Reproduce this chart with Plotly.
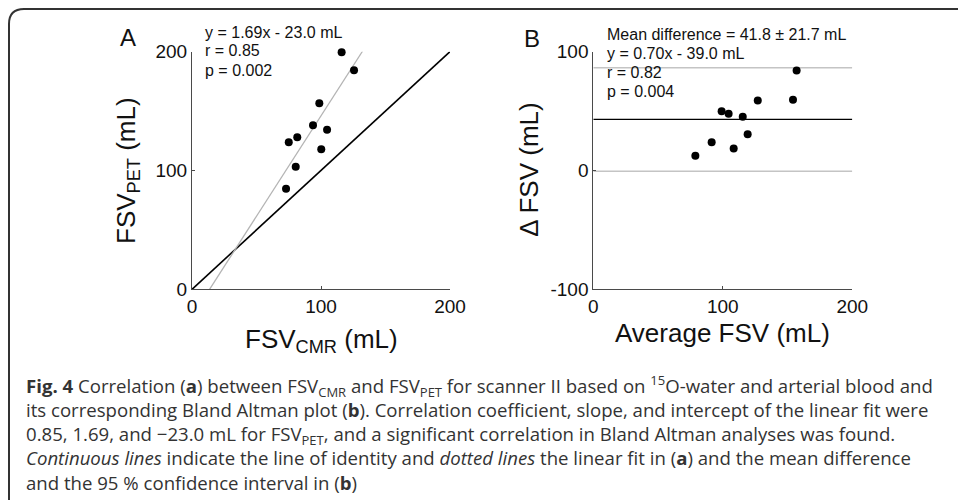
import plotly.graph_objects as go

W, H = 958, 500

# ---------------- data ----------------
# Panel A: FSV_CMR vs FSV_PET
fsv_cmr = [116.0, 125.6, 98.7, 93.8, 104.7, 81.6, 75.0, 100.2, 80.4, 72.9]
fsv_pet = [199.5, 184.3, 156.6, 138.0, 134.3, 127.9, 123.7, 117.8, 103.2, 84.7]
identity_x = [0, 200]
identity_y = [0, 200]
fit_slope = 1.69
fit_intercept = -23.0
fit_x = [13.6, 132.3]

# Panel B: Bland Altman
avg_fsv = [157.0, 154.2, 127.0, 99.1, 104.5, 115.4, 119.2, 91.4, 108.4, 78.8]
delta_fsv = [84.2, 59.5, 58.9, 49.9, 47.7, 45.2, 30.6, 23.8, 18.5, 12.4]
ba_x = [0, 200]
mean_diff = 43.0
loa_upper = 86.5
loa_lower = -0.6

ticks_x = [0, 100, 200]
ticks_ya = [0, 100, 200]
ticks_yb = [-100, 0, 100]
ticklabels_x = ["0", "100", "200"]
ticklabels_ya = ["0", "100", "200"]
ticklabels_yb = ["-100", "0", "100"]

stats_a = ["y = 1.69x - 23.0 mL", "r = 0.85", "p = 0.002"]
stats_b = ["Mean difference = 41.8 \u00b1 21.7 mL", "y = 0.70x - 39.0 mL", "r = 0.82", "p = 0.004"]

caption_lines = [
    "<b>Fig. 4</b> Correlation (<b>a</b>) between FSV<sub>CMR</sub> and FSV<sub>PET</sub> for scanner II based on <sup>15</sup>O-water and arterial blood and",
    "its corresponding Bland Altman plot (<b>b</b>). Correlation coefficient, slope, and intercept of the linear fit were",
    "0.85, 1.69, and \u221223.0 mL for FSV<sub>PET</sub>, and a significant correlation in Bland Altman analyses was found.",
    "<i>Continuous lines</i> indicate the line of identity and <i>dotted lines</i> the linear fit in (<b>a</b>) and the mean difference",
    "and the 95 % confidence interval in (<b>b</b>)",
]

# ---------------- helpers ----------------
def fx(px):
    return px / W

def fy(py):
    return 1 - py / H

FONT = "Liberation Sans, Arial, sans-serif"
CAPFONT = "Open Sans, Noto Sans, sans-serif"

fig = go.Figure()

# Panel A traces
fig.add_trace(go.Scatter(x=identity_x, y=identity_y, mode="lines",
                         line=dict(color="black", width=1.6),
                         xaxis="x", yaxis="y", showlegend=False, hoverinfo="skip"))
fig.add_trace(go.Scatter(x=fit_x, y=[fit_slope * v + fit_intercept for v in fit_x], mode="lines",
                         line=dict(color="#b4b4b4", width=1.3),
                         xaxis="x", yaxis="y", showlegend=False, hoverinfo="skip"))
fig.add_trace(go.Scatter(x=fsv_cmr, y=fsv_pet, mode="markers",
                         marker=dict(color="black", size=8),
                         xaxis="x", yaxis="y", showlegend=False, cliponaxis=False))

# Panel B traces
fig.add_trace(go.Scatter(x=ba_x, y=[loa_upper, loa_upper], mode="lines",
                         line=dict(color="#c4c4c4", width=1.6),
                         xaxis="x2", yaxis="y2", showlegend=False, hoverinfo="skip"))
fig.add_trace(go.Scatter(x=ba_x, y=[loa_lower, loa_lower], mode="lines",
                         line=dict(color="#c4c4c4", width=1.6),
                         xaxis="x2", yaxis="y2", showlegend=False, hoverinfo="skip"))
fig.add_trace(go.Scatter(x=ba_x, y=[mean_diff, mean_diff], mode="lines",
                         line=dict(color="black", width=1.4),
                         xaxis="x2", yaxis="y2", showlegend=False, hoverinfo="skip"))
fig.add_trace(go.Scatter(x=avg_fsv, y=delta_fsv, mode="markers",
                         marker=dict(color="black", size=8),
                         xaxis="x2", yaxis="y2", showlegend=False, cliponaxis=False))

ydom = [fy(289.3), fy(51.7)]

axis_common = dict(showgrid=False, zeroline=False, showline=True, linecolor="#4a4a4a",
                   linewidth=1, ticks="inside", ticklen=3, tickcolor="#4a4a4a",
                   tickfont=dict(family=FONT, size=19, color="#111111"), mirror=False)

fig.update_layout(
    width=W, height=H,
    margin=dict(l=0, r=0, t=0, b=0, autoexpand=False),
    font=dict(family=FONT, size=19, color="#111111"),
    paper_bgcolor="white", plot_bgcolor="rgba(0,0,0,0)",
    xaxis=dict(domain=[fx(192), fx(450)], range=[0, 200], anchor="y",
               tickvals=ticks_x, ticktext=ticklabels_x, **axis_common),
    yaxis=dict(domain=ydom, range=[0, 200], anchor="x",
               tickvals=ticks_ya, ticktext=ticklabels_ya, **axis_common),
    xaxis2=dict(domain=[fx(593.3), fx(852.3)], range=[0, 200], anchor="y2",
                tickvals=ticks_x, ticktext=ticklabels_x, **axis_common),
    yaxis2=dict(domain=ydom, range=[-100, 100], anchor="x2",
                tickvals=ticks_yb, ticktext=ticklabels_yb, **axis_common),
)

annotations = []

def ann(text, px, py, size, family=FONT, color="#111111", xanchor="center",
        yanchor="middle", angle=0, align="center"):
    annotations.append(dict(text=text, x=fx(px), y=fy(py), xref="paper", yref="paper",
                            showarrow=False, xanchor=xanchor, yanchor=yanchor,
                            textangle=angle, borderpad=0, align=align,
                            font=dict(family=family, size=size, color=color)))

# panel letters
ann("A", 128, 38, 24)
ann("B", 531.7, 38.3, 24)

# stats text
for i, t in enumerate(stats_a):
    ann(t, 204, 32 + i * 19, 16, xanchor="left")
for i, t in enumerate(stats_b):
    ann(t, 605.5, 34.2 + i * 19, 16, xanchor="left")

# axis titles
ann("FSV<sub>CMR</sub> (mL)", 321, 340, 26)
ann("Average FSV (mL)", 722.8, 333, 26)
ann("FSV<sub>PET</sub> (mL)", 127, 171, 26, angle=-90)
ann("\u0394 FSV (mL)", 528.7, 170, 26, angle=-90)

# caption (one block)
ann("<br>".join(caption_lines), 25, 433.3, 18.6, family=CAPFONT, color="#333333",
    xanchor="left", align="left")

fig.update_layout(annotations=annotations)

# frame border with rounded top-left corner (kept inside the page)
path = (f"M {fx(958)},{fy(9)} L {fx(24)},{fy(9)} Q {fx(9)},{fy(9)} {fx(9)},{fy(24)} "
        f"L {fx(9)},{fy(500)}")
fig.add_shape(type="path", path=path, xref="paper", yref="paper",
              line=dict(color="#333333", width=2))

fig.write_html("out.html", config={"displayModeBar": False},
               post_script="document.body.style.margin='0';document.body.style.overflow='hidden';")
